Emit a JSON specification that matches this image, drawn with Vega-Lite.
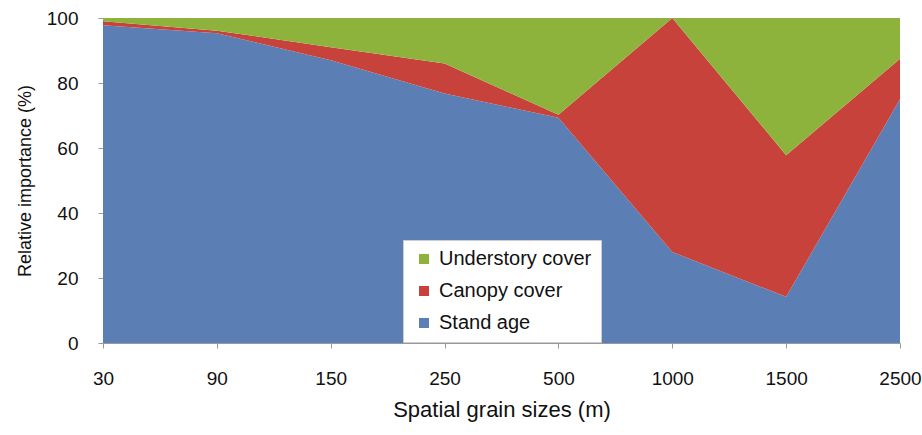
{
  "$schema": "https://vega.github.io/schema/vega-lite/v6.json",
  "width": 797,
  "height": 325,
  "autosize": {"type": "none"},
  "padding": {"left": 103, "top": 18, "right": 22, "bottom": 92},
  "background": "white",
  "config": {
    "font": "Liberation Sans",
    "view": {"stroke": null},
    "axis": {"labelColor": "#111", "titleColor": "#111", "titleFontWeight": "normal", "domainColor": "#999", "tickColor": "#999", "grid": false}
  },
  "data": {
    "values": [
      {"grain": "30", "factor": "Stand age", "value": 97.8, "layer": 1},
      {"grain": "90", "factor": "Stand age", "value": 95.3, "layer": 1},
      {"grain": "150", "factor": "Stand age", "value": 87.0, "layer": 1},
      {"grain": "250", "factor": "Stand age", "value": 76.8, "layer": 1},
      {"grain": "500", "factor": "Stand age", "value": 69.3, "layer": 1},
      {"grain": "1000", "factor": "Stand age", "value": 28.0, "layer": 1},
      {"grain": "1500", "factor": "Stand age", "value": 14.2, "layer": 1},
      {"grain": "2500", "factor": "Stand age", "value": 75.0, "layer": 1},
      {"grain": "30", "factor": "Canopy cover", "value": 1.2, "layer": 2},
      {"grain": "90", "factor": "Canopy cover", "value": 0.8, "layer": 2},
      {"grain": "150", "factor": "Canopy cover", "value": 4.0, "layer": 2},
      {"grain": "250", "factor": "Canopy cover", "value": 9.2, "layer": 2},
      {"grain": "500", "factor": "Canopy cover", "value": 0.9, "layer": 2},
      {"grain": "1000", "factor": "Canopy cover", "value": 72.0, "layer": 2},
      {"grain": "1500", "factor": "Canopy cover", "value": 43.6, "layer": 2},
      {"grain": "2500", "factor": "Canopy cover", "value": 12.5, "layer": 2},
      {"grain": "30", "factor": "Understory cover", "value": 1.0, "layer": 3},
      {"grain": "90", "factor": "Understory cover", "value": 3.9, "layer": 3},
      {"grain": "150", "factor": "Understory cover", "value": 9.0, "layer": 3},
      {"grain": "250", "factor": "Understory cover", "value": 14.0, "layer": 3},
      {"grain": "500", "factor": "Understory cover", "value": 29.8, "layer": 3},
      {"grain": "1000", "factor": "Understory cover", "value": 0.0, "layer": 3},
      {"grain": "1500", "factor": "Understory cover", "value": 42.2, "layer": 3},
      {"grain": "2500", "factor": "Understory cover", "value": 12.5, "layer": 3}
    ]
  },
  "mark": {"type": "area", "interpolate": "linear", "opacity": 1},
  "encoding": {
    "x": {
      "field": "grain",
      "type": "ordinal",
      "sort": null,
      "scale": {"type": "point", "padding": 0},
      "axis": {
        "title": "Spatial grain sizes (m)",
        "labelAngle": 0,
        "labelFontSize": 19,
        "labelPadding": 21,
        "tickSize": 5,
        "titleFontSize": 22,
        "titlePadding": 11
      }
    },
    "y": {
      "field": "value",
      "type": "quantitative",
      "stack": "zero",
      "scale": {"domain": [0, 100], "nice": false},
      "axis": {
        "title": "Relative importance (%)",
        "values": [0, 20, 40, 60, 80, 100],
        "labelFontSize": 19,
        "labelPadding": 20,
        "tickSize": 5,
        "titleFontSize": 18,
        "titlePadding": 12
      }
    },
    "color": {
      "field": "factor",
      "type": "nominal",
      "scale": {
        "domain": ["Understory cover", "Canopy cover", "Stand age"],
        "range": ["#8db33d", "#c8423c", "#5b7fb4"]
      },
      "legend": {
        "title": null,
        "orient": "none",
        "legendX": 300,
        "legendY": 222,
        "fillColor": "white",
        "strokeColor": "#cccccc",
        "padding": 9,
        "symbolType": "square",
        "symbolSize": 100,
        "symbolStrokeWidth": 0,
        "labelFontSize": 20,
        "labelColor": "#111",
        "labelLimit": 300,
        "rowPadding": 12,
        "symbolOffset": 2,
        "labelOffset": 5
      }
    },
    "order": {"field": "layer", "type": "quantitative", "sort": "ascending"}
  }
}
